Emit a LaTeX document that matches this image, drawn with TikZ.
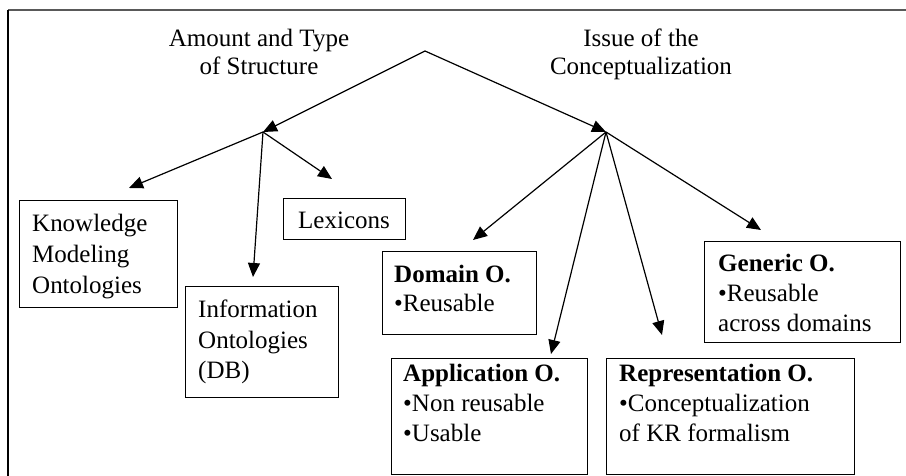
\documentclass[tikz,border=0pt]{standalone}
\usepackage{fontspec}
\setmainfont{Liberation Serif}
\usetikzlibrary{arrows.meta}

% stacked lines sharing a fixed baseline distance; the first baseline is the box baseline
\newcommand{\leftlines}[2][31pt]{\vtop{\baselineskip=#1\lineskip=0pt\lineskiplimit=-100pt\halign{##\hfil\cr#2\crcr}}}
\newcommand{\centerlines}[2][28pt]{\vtop{\baselineskip=#1\lineskip=0pt\lineskiplimit=-100pt\halign{\hfil##\hfil\cr#2\crcr}}}

\tikzset{
  box/.style={draw, line width=1.2pt, inner sep=0pt, anchor=north west},
  txt/.style={anchor=base west, inner sep=0pt, font=\fontsize{25}{31}\selectfont},
  head/.style={anchor=base, inner sep=0pt, font=\fontsize{25}{28}\selectfont},
  link/.style={line width=1.2pt, -{Triangle[length=14pt,width=12pt]}},
}

\begin{document}
\begin{tikzpicture}[x=1pt,y=-1pt]
\useasboundingbox (0,0) rectangle (906,476);
\fill[white] (0,0) rectangle (906,476);

% frame edges
\draw[line width=1.5pt, black!65] (8,10) -- (906,10);
\draw[line width=1.5pt, black] (8,10) -- (8,476);

% headings
\node[head] (hstruct) at (259,47) {\centerlines{Amount and Type\cr of Structure}};
\node[head] (hissue) at (641,47) {\centerlines{Issue of the\cr Conceptualization}};

% branching points
\coordinate (apex) at (425,51);
\coordinate (lfork) at (263,132);
\coordinate (rfork) at (606,132);

% boxes
\node[box, minimum width=158pt, minimum height=107pt] (km) at (19,200) {};
\node[box, minimum width=122pt, minimum height=41pt] (lex) at (283,198) {};
\node[box, minimum width=153pt, minimum height=111pt] (info) at (185,286) {};
\node[box, minimum width=154pt, minimum height=83pt] (dom) at (382,251) {};
\node[box, minimum width=196pt, minimum height=101pt] (gen) at (704,241) {};
\node[box, minimum width=196pt, minimum height=116pt] (app) at (391,358) {};
\node[box, minimum width=248pt, minimum height=116pt] (rep) at (606,358) {};

% box texts
\node[txt] (kmtext) at (32,232) {\leftlines{Knowledge\cr Modeling\cr Ontologies}};
\node[txt] (lextext) at (298,229) {Lexicons};
\node[txt] (infotext) at (198,317) {\leftlines{Information\cr Ontologies\cr (DB)}};
\node[txt] (domtext) at (394,283) {\leftlines[29pt]{\textbf{Domain O.}\cr \textbullet Reusable}};
\node[txt] (gentext) at (718,272) {\leftlines[30pt]{\textbf{Generic O.}\cr \textbullet Reusable\cr across domains}};
\node[txt] (apptext) at (403,381) {\leftlines[30pt]{\textbf{Application O.}\cr \textbullet Non reusable\cr \textbullet Usable}};
\node[txt] (reptext) at (619,381) {\leftlines[30pt]{\textbf{Representation O.}\cr \textbullet Conceptualization\cr of KR formalism}};

% arrow ends just above the boxes
\coordinate (kmtip) at (129,188);
\coordinate (infotip) at (253,277);
\coordinate (lextip) at (332,179);
\coordinate (domtip) at (473,240);
\coordinate (apptip) at (551,354);
\coordinate (reptip) at (662,335);
\coordinate (gentip) at (761,230);

% connectors
\draw[link] (apex) -- (lfork);
\draw[link] (apex) -- (rfork);
\draw[link] (lfork) -- (kmtip);
\draw[link] (lfork) -- (infotip);
\draw[link] (lfork) -- (lextip);
\draw[link] (rfork) -- (domtip);
\draw[link] (rfork) -- (apptip);
\draw[link] (rfork) -- (reptip);
\draw[link] (rfork) -- (gentip);
\end{tikzpicture}
\end{document}
